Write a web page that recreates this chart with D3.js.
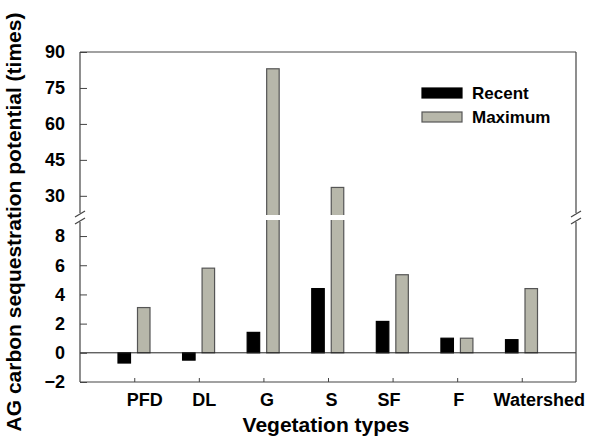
<!DOCTYPE html>
<html>
<head>
<meta charset="utf-8">
<script src="https://cdn.jsdelivr.net/npm/d3@7"></script>
<style>
  body { margin: 0; background: #fff; }
  svg { display: block; font-family: "Liberation Sans", Arial, sans-serif; font-weight: bold; }
</style>
</head>
<body>
<svg id="chart" width="590" height="441"></svg>
<script>
// data
const categories = [`PFD`, `DL`, `G`, `S`, `SF`, `F`, `Watershed`]
const recent = [-0.7, -0.5, 1.4, 4.4, 2.15, 1.0, 0.9]
const maximum = [3.1, 5.8, 83, 33.5, 5.35, 1.0, 4.4]
const lowTicks = [-2, 0, 2, 4, 6, 8]
const highTicks = [30, 45, 60, 75, 90]
const series = [
  { name: `Recent`, values: recent, fill: `#000`, stroke: `#000` },
  { name: `Maximum`, values: maximum, fill: `#b7b7aa`, stroke: `#555` },
]

// label nudges, the original labels sit a bit off their ticks
const labelShift = [10, 5, 3, 3, -4, 1, 17]

//
// Layout
//

const plotLeft = 80, plotRight = 576, plotTop = 52, plotBottom = 382
const breakLow = 220, breakHigh = 215
const AXIS_COLOR = `#444`

const svg = d3.select(`#chart`)

const x = d3.scalePoint().domain(categories).range([plotLeft, plotRight]).padding(0.84)
const yLow = d3.scaleLinear().domain([-2, 9.1]).range([plotBottom, breakLow])
const yHigh = d3.scaleLinear().domain([22, 90]).range([breakHigh, plotTop])
// one scale for both segments, used for bar tops
const y = (v) => (v > yHigh.domain()[0] ? yHigh(v) : yLow(v))

const barW = 12.5
const offsets = [-10, 9.5]

//
// Bars
//

series.forEach((s, si) => {
  const g = svg.append(`g`)
  s.values.forEach((v, i) => {
    const x0 = x(categories[i]) + offsets[si] - barW / 2
    const y1 = Math.min(y(v), yLow(0))
    const y2 = Math.max(y(v), yLow(0))
    g.append(`rect`)
      .attr(`x`, x0).attr(`y`, y1)
      .attr(`width`, barW).attr(`height`, y2 - y1)
      .attr(`fill`, s.fill).attr(`stroke`, s.stroke).attr(`stroke-width`, 1.2)
    if (v > yHigh.domain()[0]) {
      // white gap over the bar at the break
      g.append(`rect`)
        .attr(`x`, x0 - 1.5).attr(`y`, breakHigh)
        .attr(`width`, barW + 3).attr(`height`, breakLow - breakHigh)
        .attr(`fill`, `#fff`)
    }
  })
})

// zero line
svg.append(`line`)
  .attr(`x1`, plotLeft).attr(`x2`, plotRight)
  .attr(`y1`, yLow(0)).attr(`y2`, yLow(0))
  .attr(`stroke`, `#222`).attr(`stroke-width`, 1)

//
// Axes
//

function styleAxis(g) {
  g.select(`.domain`).remove()
  g.selectAll(`.tick line`).attr(`stroke`, AXIS_COLOR).attr(`stroke-width`, 1)
  g.selectAll(`.tick text`).attr(`fill`, `#000`).style(`font-size`, `18px`).style(`font-weight`, `bold`)
  g.attr(`font-family`, null).attr(`font-size`, null)
}

svg.append(`g`)
  .attr(`transform`, `translate(${plotLeft},0)`)
  .call(d3.axisLeft(yLow).tickValues(lowTicks).tickSizeInner(-7).tickSizeOuter(0).tickPadding(15))
  .call(styleAxis)

svg.append(`g`)
  .attr(`transform`, `translate(${plotLeft},0)`)
  .call(d3.axisLeft(yHigh).tickValues(highTicks).tickSizeInner(-7).tickSizeOuter(0).tickPadding(15))
  .call(styleAxis)

const xAxis = svg.append(`g`)
  .attr(`transform`, `translate(0,${plotBottom})`)
  .call(d3.axisBottom(x).tickSizeInner(-4).tickSizeOuter(0).tickPadding(0))
  .call(styleAxis)
xAxis.selectAll(`.tick text`)
  .attr(`y`, 24).attr(`dy`, 0)
  .attr(`dx`, (d, i) => labelShift[i])

// frame with breaks on the side lines
const frame = svg.append(`g`).attr(`stroke`, AXIS_COLOR).attr(`stroke-width`, 1.2).attr(`fill`, `none`)
frame.append(`line`).attr(`x1`, plotLeft).attr(`x2`, plotRight).attr(`y1`, plotTop).attr(`y2`, plotTop)
frame.append(`line`).attr(`x1`, plotLeft).attr(`x2`, plotRight).attr(`y1`, plotBottom).attr(`y2`, plotBottom)
;[plotLeft, plotRight].forEach((xx) => {
  frame.append(`line`).attr(`x1`, xx).attr(`x2`, xx).attr(`y1`, plotTop).attr(`y2`, breakHigh - 2)
  frame.append(`line`).attr(`x1`, xx).attr(`x2`, xx).attr(`y1`, breakLow + 2).attr(`y2`, plotBottom)
  ;[breakHigh - 1, breakLow + 1].forEach((yy) => {
    frame.append(`line`)
      .attr(`x1`, xx - 5).attr(`y1`, yy + 3)
      .attr(`x2`, xx + 5).attr(`y2`, yy - 3)
  })
})

//
// Titles
//

svg.append(`text`)
  .attr(`x`, (plotLeft + plotRight) / 2 - 2).attr(`y`, 432)
  .attr(`text-anchor`, `middle`)
  .style(`font-size`, `21px`)
  .text(`Vegetation types`)

svg.append(`text`)
  .attr(`transform`, `translate(21,222) rotate(-90)`)
  .attr(`text-anchor`, `middle`)
  .style(`font-size`, `21px`)
  .text(`AG carbon sequestration potential (times)`)

//
// Legend
//

const legend = svg.append(`g`).attr(`transform`, `translate(422,88)`)
series.forEach((s, i) => {
  const row = legend.append(`g`).attr(`transform`, `translate(0,${i * 24})`)
  row.append(`rect`)
    .attr(`width`, 40).attr(`height`, 10)
    .attr(`fill`, s.fill).attr(`stroke`, s.stroke).attr(`stroke-width`, 1.2)
  row.append(`text`)
    .attr(`x`, 50).attr(`y`, 11)
    .style(`font-size`, `17px`)
    .text(s.name)
})
</script>
</body>
</html>
